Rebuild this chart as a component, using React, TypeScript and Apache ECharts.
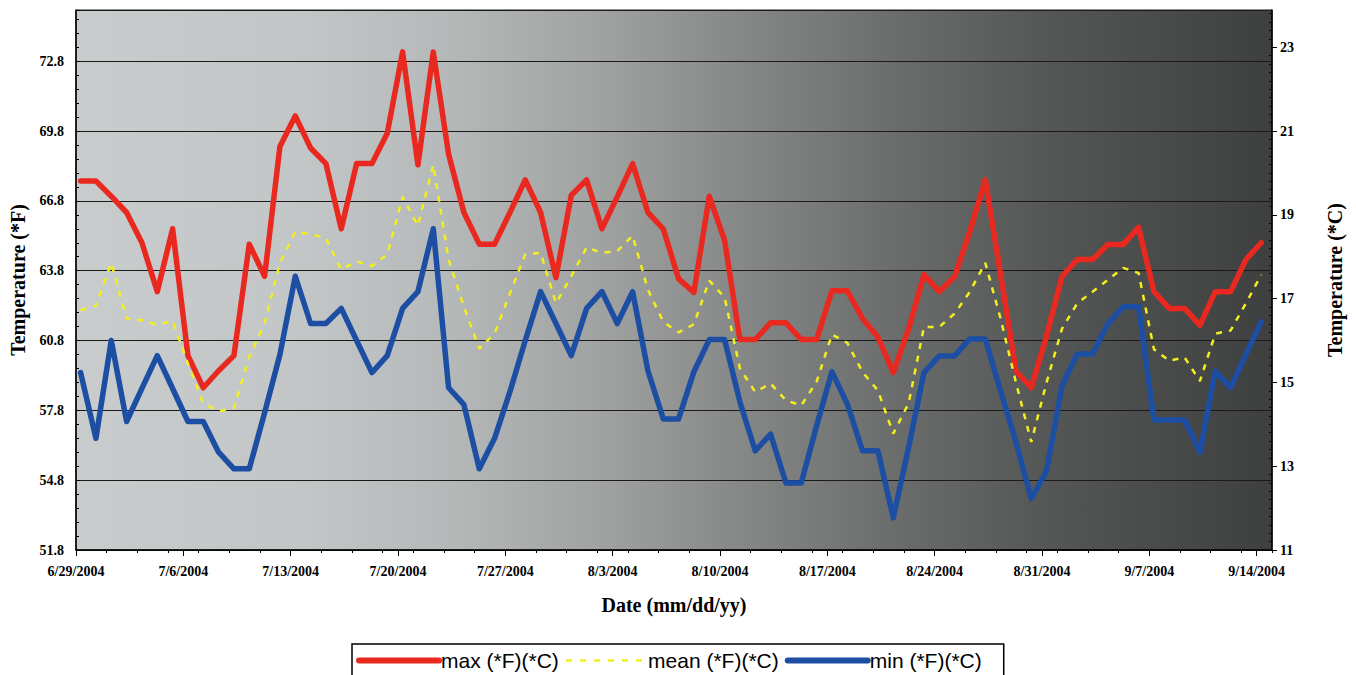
import React, { useEffect, useRef } from "react";
import * as echarts from "echarts";

// Major x tick labels (one per week, starting 6/29/2004)
const tickLabels = [
  "6/29/2004", "7/6/2004", "7/13/2004", "7/20/2004", "7/27/2004", "8/3/2004",
  "8/10/2004", "8/17/2004", "8/24/2004", "8/31/2004", "9/7/2004", "9/14/2004",
];

// Daily values (deg F), 6/29/2004 .. 9/14/2004
const maxF = [
  67.65, 67.65, 67.0, 66.3, 65.0, 62.9, 65.6, 60.15, 58.77, 59.5,
  60.15, 64.94, 63.56, 69.14, 70.45, 69.07, 68.4, 65.6, 68.4, 68.4,
  69.7, 73.2, 68.35, 73.2, 68.8, 66.3, 64.94, 64.94, 66.3, 67.7,
  66.3, 63.5, 67.04, 67.7, 65.6, 66.97, 68.4, 66.3, 65.6, 63.45,
  62.87, 67.0, 65.1, 60.84, 60.84, 61.56, 61.56, 60.84, 60.84, 62.94,
  62.94, 61.74, 60.94, 59.42, 61.3, 63.63, 62.9, 63.55, 65.5, 67.7,
  63.63, 59.49, 58.77, 61.0, 63.55, 64.28, 64.28, 64.93, 64.93, 65.66,
  62.9, 62.18, 62.18, 61.45, 62.9, 62.9, 64.28, 65.0,
];

const meanF = [
  62.1, 62.3, 64.14, 61.75, 61.67, 61.48, 61.64, 59.8, 58.1, 57.76,
  57.9, 60.1, 61.53, 64.14, 65.47, 65.37, 65.2, 63.85, 64.2, 64.0,
  64.5, 66.97, 65.73, 68.35, 64.28, 62.25, 60.45, 61.1, 62.83, 64.5,
  64.57, 62.4, 63.56, 64.8, 64.57, 64.65, 65.3, 62.98, 61.6, 61.15,
  61.5, 63.38, 62.65, 59.6, 58.59, 58.95, 58.23, 58.01, 59.03, 61.06,
  60.7, 59.44, 58.65, 56.8, 58.1, 61.38, 61.38, 61.96, 62.9, 64.14,
  61.74, 59.0, 56.44, 59.0, 61.3, 62.4, 62.9, 63.41, 63.92, 63.7,
  60.43, 59.93, 60.07, 59.06, 61.09, 61.23, 62.4, 63.63,
];

const minF = [
  59.42, 56.6, 60.8, 57.32, 58.74, 60.15, 58.74, 57.32, 57.32, 56.0,
  55.29, 55.29, 57.7, 60.2, 63.56, 61.53, 61.53, 62.18, 60.8, 59.42,
  60.15, 62.18, 62.9, 65.6, 58.77, 58.05, 55.29, 56.6, 58.6, 60.8,
  62.9, 61.53, 60.15, 62.18, 62.9, 61.53, 62.9, 59.5, 57.43, 57.43,
  59.46, 60.84, 60.84, 58.16, 56.06, 56.78, 54.68, 54.68, 57.14, 59.46,
  58.08, 56.06, 56.06, 53.18, 56.2, 59.42, 60.14, 60.14, 60.87, 60.87,
  58.63, 56.44, 54.0, 55.2, 58.84, 60.22, 60.22, 61.52, 62.25, 62.25,
  57.39, 57.39, 57.39, 56.0, 59.49, 58.77, 60.22, 61.6,
];

const seriesNames = ["max (*F)(*C)", "mean (*F)(*C)", "min (*F)(*C)"];

const F_MIN = 51.8;
const F_MAX = 75.0;
const F_STEP = 3;
const C_MIN = 11;
const C_MAX = (F_MAX - 32) / 1.8;
const C_STEP = 2;
const DAYS_SPAN = 78;
const POINT_SHIFT = 0.3;

const RED = "#e9291f";
const YELLOW = "#f3ef1d";
const BLUE = "#1c4ea3";

const toPairs = (arr: number[]) => arr.map((v, i) => [i, v]);

const serif = "'Liberation Serif', 'Times New Roman', serif";
const sans = "'Liberation Sans', Arial, sans-serif";

export default function App() {
  const ref = useRef<HTMLDivElement>(null);

  useEffect(() => {
    if (!ref.current) return;
    const chart = echarts.init(ref.current, undefined, { renderer: "svg" });

    const bg = {
      type: "linear",
      x: 0, y: 0, x2: 1, y2: 0,
      colorStops: [
        { offset: 0, color: "#c9cccd" },
        { offset: 0.19, color: "#c3c6c7" },
        { offset: 0.31, color: "#b6b9b9" },
        { offset: 0.44, color: "#a0a2a2" },
        { offset: 0.56, color: "#858787" },
        { offset: 0.69, color: "#6a6c6c" },
        { offset: 0.81, color: "#555757" },
        { offset: 1, color: "#3e4040" },
      ],
    };

    const labelStyle = {
      fontFamily: serif,
      fontWeight: "bold" as const,
      fontSize: 14,
      color: "#000",
    };
    const nameStyle = {
      fontFamily: serif,
      fontWeight: "bold" as const,
      fontSize: 20,
      color: "#000",
    };
    const hiddenSymbol = { opacity: 0, color: "transparent", borderWidth: 0 };

    chart.setOption({
      animation: false,
      backgroundColor: "#ffffff",
      grid: {
        left: 76,
        right: 84,
        top: 10,
        bottom: 125,
        show: true,
        borderColor: "#222",
        borderWidth: 1,
        backgroundColor: bg,
        containLabel: false,
        outerBoundsMode: "none",
      },
      legend: {
        left: 352,
        top: 644,
        data: [
          { name: seriesNames[0], lineStyle: { width: 6, color: RED }, itemStyle: hiddenSymbol },
          { name: seriesNames[1], lineStyle: { width: 2.5, color: YELLOW, type: [6, 8] }, itemStyle: hiddenSymbol },
          { name: seriesNames[2], lineStyle: { width: 6, color: BLUE }, itemStyle: hiddenSymbol },
        ],
        itemWidth: 80,
        itemHeight: 14,
        itemGap: 6,
        padding: [6, 22, 16, 4],
        borderColor: "#000",
        borderWidth: 1.5,
        backgroundColor: "#fff",
        textStyle: { fontFamily: sans, fontSize: 21, color: "#000", padding: [0, 0, 0, -3] },
      },
      xAxis: [
        {
          type: "value",
          min: 0,
          max: DAYS_SPAN,
          interval: 7,
          position: "bottom",
          axisLine: { show: true, onZero: false, lineStyle: { color: "#000", width: 1.5 } },
          axisTick: { show: true, length: 6, lineStyle: { color: "#000", width: 1 } },
          axisLabel: {
            ...labelStyle,
            margin: 14,
            showMaxLabel: false,
            formatter: (v: number) => {
              const k = Math.round(v / 7);
              return Math.abs(v - k * 7) < 1e-6 && k < tickLabels.length ? tickLabels[k] : "";
            },
          },
          splitLine: { show: false },
          name: "Date (mm/dd/yy)",
          nameLocation: "middle",
          nameGap: 45,
          nameTextStyle: nameStyle,
        },
        {
          type: "value",
          min: 0,
          max: DAYS_SPAN,
          interval: 2,
          position: "bottom",
          axisLine: { show: false, onZero: false },
          axisTick: { show: true, length: 3, lineStyle: { color: "#000", width: 1 } },
          axisLabel: { show: false },
          splitLine: { show: false },
        },
        {
          type: "value",
          min: -POINT_SHIFT,
          max: DAYS_SPAN - POINT_SHIFT,
          show: false,
          axisLine: { onZero: false },
          splitLine: { show: false },
        },
      ],
      yAxis: [
        {
          type: "value",
          position: "left",
          min: F_MIN,
          max: F_MAX,
          interval: F_STEP,
          axisLine: { show: true, onZero: false, lineStyle: { color: "#000", width: 1.5 } },
          axisTick: { show: true, inside: true, length: 4, lineStyle: { color: "#000" } },
          minorTick: { show: true, splitNumber: 5, length: 3, lineStyle: { color: "#000", width: 1 } },
          axisLabel: {
            ...labelStyle,
            margin: 12,
            showMaxLabel: false,
            formatter: (v: number) => (v > F_MAX - 0.5 ? "" : v.toFixed(1)),
          },
          splitLine: { show: true, lineStyle: { color: "#1a1a1a", width: 1 } },
          minorSplitLine: { show: false },
          name: "Temperature (*F)",
          nameLocation: "middle",
          nameGap: 48,
          nameRotate: 90,
          nameTextStyle: nameStyle,
        },
        {
          type: "value",
          position: "right",
          min: C_MIN,
          max: C_MAX,
          interval: C_STEP,
          axisLine: { show: true, onZero: false, lineStyle: { color: "#000", width: 1.5 } },
          axisTick: { show: true, length: 5, lineStyle: { color: "#000" } },
          axisLabel: {
            ...labelStyle,
            margin: 8,
            showMaxLabel: false,
            formatter: (v: number) => (v > C_MAX - 0.5 ? "" : String(Math.round(v))),
          },
          splitLine: { show: false },
          name: "Temperature (*C)",
          nameLocation: "middle",
          nameGap: 53,
          nameRotate: 90,
          nameTextStyle: nameStyle,
        },
        {
          type: "value",
          position: "right",
          min: C_MIN,
          max: C_MAX,
          interval: C_STEP,
          axisLine: { show: false, onZero: false },
          axisTick: { show: false, inside: true },
          minorTick: { show: true, splitNumber: 10, length: 3, lineStyle: { color: "#000", width: 0.8 } },
          axisLabel: { show: false },
          splitLine: { show: false },
        },
      ],
      series: [
        {
          name: seriesNames[0],
          type: "line",
          xAxisIndex: 2,
          yAxisIndex: 0,
          data: toPairs(maxF),
          symbol: "none",
          lineStyle: { color: RED, width: 5.5, cap: "round", join: "round" },
          itemStyle: { color: RED },
          z: 3,
        },
        {
          name: seriesNames[1],
          type: "line",
          xAxisIndex: 2,
          yAxisIndex: 0,
          data: toPairs(meanF),
          symbol: "none",
          lineStyle: { color: YELLOW, width: 2.5, type: [6, 7] },
          itemStyle: { color: YELLOW },
          z: 4,
        },
        {
          name: seriesNames[2],
          type: "line",
          xAxisIndex: 2,
          yAxisIndex: 0,
          data: toPairs(minF),
          symbol: "none",
          lineStyle: { color: BLUE, width: 5.5, cap: "round", join: "round" },
          itemStyle: { color: BLUE },
          z: 5,
        },
      ],
    });

    return () => chart.dispose();
  }, []);

  return (
    <div
      ref={ref}
      style={{ position: "absolute", left: 0, top: 0, width: 1356, height: 675, background: "#fff" }}
    />
  );
}
